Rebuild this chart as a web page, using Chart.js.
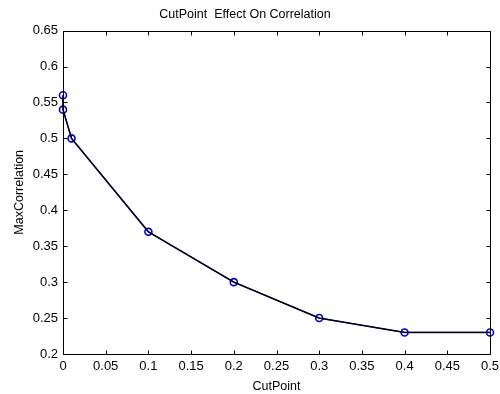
<!DOCTYPE html>
<html>
<head>
<meta charset="utf-8">
<script src="https://cdn.jsdelivr.net/npm/chart.js@4"></script>
<style>
  html, body { margin: 0; padding: 0; background: #ffffff; }
  #wrap { width: 500px; height: 394px; }
</style>
</head>
<body>
<div id="wrap"><canvas id="c" width="500" height="394"></canvas></div>
<script>
const cutPoints = [0, 0, 0.01, 0.1, 0.2, 0.3, 0.4, 0.5];
const maxCorrelation = [0.56, 0.54, 0.50, 0.37, 0.30, 0.25, 0.23, 0.23];
const xTickValues = [0, 0.05, 0.1, 0.15, 0.2, 0.25, 0.3, 0.35, 0.4, 0.45, 0.5];
const xTickLabels = ['0', '0.05', '0.1', '0.15', '0.2', '0.25', '0.3', '0.35', '0.4', '0.45', '0.5'];
const yTickValues = [0.2, 0.25, 0.3, 0.35, 0.4, 0.45, 0.5, 0.55, 0.6, 0.65];
const yTickLabels = ['0.2', '0.25', '0.3', '0.35', '0.4', '0.45', '0.5', '0.55', '0.6', '0.65'];

const points = cutPoints.map((x, i) => ({ x: x, y: maxCorrelation[i] }));
const FONT = "'Liberation Sans', Arial, sans-serif";

const frameTicks = {
  id: 'frameTicks',
  afterDraw(chart) {
    const { ctx, chartArea: a, scales } = chart;
    ctx.save();
    ctx.strokeStyle = '#000';
    ctx.lineWidth = 1;
    ctx.beginPath();
    const L = Math.round(a.left) + 0.5, R = Math.round(a.right) + 0.5;
    const T = Math.round(a.top) + 0.5, B = Math.round(a.bottom) + 0.5;
    ctx.rect(L, T, R - L, B - T);
    const len = 4;
    scales.x.ticks.forEach(t => {
      const px = Math.round(scales.x.getPixelForValue(t.value)) + 0.5;
      ctx.moveTo(px, B); ctx.lineTo(px, B - len);
      ctx.moveTo(px, T); ctx.lineTo(px, T + len);
    });
    scales.y.ticks.forEach(t => {
      const py = Math.round(scales.y.getPixelForValue(t.value)) + 0.5;
      ctx.moveTo(L, py); ctx.lineTo(L + len, py);
      ctx.moveTo(R, py); ctx.lineTo(R - len, py);
    });
    ctx.stroke();
    ctx.restore();
  }
};

new Chart(document.getElementById('c'), {
  type: 'line',
  data: {
    datasets: [
      {
        data: points,
        borderColor: '#000000',
        borderWidth: 1.2,
        pointRadius: 0,
        fill: false,
        tension: 0,
        clip: false,
        order: 1
      },
      {
        data: points,
        borderColor: '#1a1aa0',
        borderWidth: 1.6,
        pointRadius: 3.5,
        pointBorderWidth: 1.6,
        pointBorderColor: '#0000c8',
        pointBackgroundColor: 'rgba(0,0,0,0)',
        fill: false,
        tension: 0,
        clip: false,
        order: 2
      }
    ]
  },
  options: {
    responsive: false,
    animation: false,
    events: [],
    layout: { padding: { left: 0, right: 10, top: 0, bottom: 0 } },
    plugins: {
      legend: { display: false },
      tooltip: { enabled: false },
      title: {
        display: true,
        text: 'CutPoint  Effect On Correlation',
        color: '#000',
        font: { family: FONT, size: 12.5, weight: 'normal' },
        padding: { top: 7, bottom: 8.6 }
      }
    },
    scales: {
      x: {
        type: 'linear',
        min: 0,
        max: 0.5,
        afterBuildTicks: s => { s.ticks = xTickValues.map(v => ({ value: v })); },
        afterFit: s => { s.height = 40; s.paddingLeft = 0; s.paddingRight = 0; },
        grid: { display: false, drawTicks: false, tickLength: 0 },
        border: { display: false },
        ticks: {
          callback: (v, i) => xTickLabels[i],
          color: '#000',
          font: { family: FONT, size: 13 },
          padding: 5,
          maxRotation: 0,
          autoSkip: false
        },
        title: {
          display: true,
          text: 'CutPoint',
          color: '#000',
          font: { family: FONT, size: 12.5 },
          padding: { top: 0, bottom: 0 }
        }
      },
      y: {
        type: 'linear',
        min: 0.2,
        max: 0.65,
        afterBuildTicks: s => { s.ticks = yTickValues.map(v => ({ value: v })); },
        afterFit: s => { s.width = 63; s.paddingTop = 0; s.paddingBottom = 0; },
        grid: { display: false, drawTicks: false, tickLength: 0 },
        border: { display: false },
        ticks: {
          callback: (v, i) => yTickLabels[i],
          color: '#000',
          font: { family: FONT, size: 13 },
          padding: 5,
          autoSkip: false
        },
        title: {
          display: true,
          text: 'MaxCorrelation',
          color: '#000',
          font: { family: FONT, size: 12.5 },
          padding: { top: 12, bottom: 0 }
        }
      }
    }
  },
  plugins: [frameTicks]
});
</script>
</body>
</html>
